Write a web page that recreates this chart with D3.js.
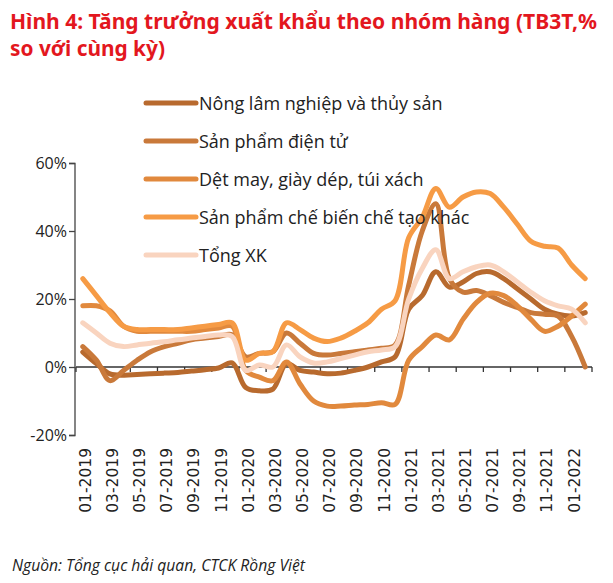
<!DOCTYPE html>
<html><head><meta charset="utf-8">
<script src="https://cdn.jsdelivr.net/npm/d3@7"></script>
<style>body{margin:0;background:#fff}svg{display:block}</style>
</head><body>
<svg id="c" width="613" height="583"></svg>
<script>
const months = ["01-2019","02-2019","03-2019","04-2019","05-2019","06-2019","07-2019","08-2019","09-2019","10-2019","11-2019","12-2019",
"01-2020","02-2020","03-2020","04-2020","05-2020","06-2020","07-2020","08-2020","09-2020","10-2020","11-2020","12-2020",
"01-2021","02-2021","03-2021","04-2021","05-2021","06-2021","07-2021","08-2021","09-2021","10-2021","11-2021","12-2021",
"01-2022","02-2022"];
const tickLabels = months.filter((m,i)=>i%2===0);
const yTicks = [60,40,20,0,-20];

const nongLam = [4.4,1,-2,-2.4,-2.2,-2,-1.8,-1.6,-1.2,-0.8,-0.3,1.2,-6,-7,-6.5,1,-1,-1.5,-2,-1.8,-1,0,1.5,3,17,21,28,23.5,25,27.5,28,26,23,20,17,15.5,15,16];
const dienTu = [6,2,-4,-1,2,4.5,6,7,8,8.5,9,9.5,3,4,4.5,10,7,4,3.5,4,4.5,5,5.5,6.5,24,40,48,26,22,22.5,21,19,17.5,16,15.5,15,9,0];
const detMay = [18,18,16.5,12,10.5,10.5,10.5,10.5,10.5,11,11.5,12,-1,-3,-4,1.5,-5,-10,-11.5,-11.5,-11.2,-11,-10.5,-11,2,6,9.4,8,14,19,21.7,21,18,14,10.5,12,15,18.5];
const cheBien = [26,21,16,12,11,11,11,11,11.5,12,12.5,13,2,4,4.5,13,11,8.5,7.5,8.5,10.5,13,17,19.5,38,44,52.5,47,50,51.5,51,47,42,37,35.5,35,30,26];
const tongXK = [13,10,7,6,6.5,7,7.4,8,8.5,9,9.4,9,-1,0.6,0,6.5,3,1.2,1.5,2.5,3.5,4.5,5,6,20,29,34.5,26,28,29.5,30,28,25,22,19.5,18,17,13];

const seriesNames = ["Nông lâm nghiệp và thủy sản","Sản phẩm điện tử","Dệt may, giày dép, túi xách","Sản phẩm chế biến chế tạo khác","Tổng XK"];
const seriesValues = [nongLam, dienTu, detMay, cheBien, tongXK];
const colors = ["#B86A2E","#C9793A","#E1893D","#F69B45","#F9D4BF"];

const svg = d3.select("#c");
const x = d3.scaleBand().domain(months).range([76,592]);
const y = d3.scaleLinear().domain([-20,60]).range([435,163]);

// title
const title = svg.append("g").attr("fill","#E3171E").attr("font-family","'Noto Sans', sans-serif").attr("font-weight","bold").attr("font-size",21);
title.append("text").attr("x",10).attr("y",29).attr("textLength",587).attr("lengthAdjust","spacingAndGlyphs").text("Hình 4: Tăng trưởng xuất khẩu theo nhóm hàng (TB3T,%");
title.append("text").attr("x",10).attr("y",56).attr("textLength",155).attr("lengthAdjust","spacingAndGlyphs").text("so với cùng kỳ)");

// y axis
const yAxis = svg.append("g").attr("transform","translate(75,0)")
  .call(d3.axisLeft(y).tickValues(yTicks).tickSize(6).tickFormat(d=>d+"%"));
yAxis.select(".domain").attr("stroke","#444").attr("stroke-width",1.3).attr("d","M-6,163.5H0V435.5H-6");
yAxis.selectAll(".tick line").attr("stroke","#444").attr("stroke-width",1.3);
yAxis.selectAll(".tick text").attr("font-family","'Open Sans', sans-serif").attr("font-size",16).attr("fill","#222").attr("x",-8);

// x axis at zero
const xAxis = svg.append("g").attr("transform",`translate(0,${y(0)})`)
  .call(d3.axisBottom(x).tickValues(tickLabels).tickSize(0).tickFormat(""));
xAxis.select(".domain").attr("stroke","#333").attr("stroke-width",1.3).attr("d","M76,0H592");
const bounds = d3.range(0, months.length+1, 2).map(i=> 76 + i*x.step());
xAxis.selectAll(".btick").data(bounds).enter().append("line").attr("class","btick")
  .attr("x1",d=>d).attr("x2",d=>d).attr("y1",0).attr("y2",5).attr("stroke","#333").attr("stroke-width",1.3);

// x labels
svg.append("g").selectAll("text").data(tickLabels).enter().append("text")
  .attr("transform",d=>`translate(${x(d)+x.bandwidth()/2+8},448) rotate(-90)`)
  .attr("text-anchor","end").attr("font-family","'DejaVu Sans', sans-serif").attr("font-size",15.5).attr("fill","#222")
  .text(d=>d);

// lines
const line = d3.line().x((d,i)=>x(months[i])+x.bandwidth()/2).y(d=>y(d)).curve(d3.curveCatmullRom.alpha(0.5));
svg.append("g").selectAll("path").data(seriesValues).enter().append("path")
  .attr("d",d=>line(d)).attr("fill","none").attr("stroke",(d,i)=>colors[i]).attr("stroke-width",5).attr("stroke-linejoin","round").attr("stroke-linecap","round");

// legend
const lg = svg.append("g");
seriesNames.forEach((n,i)=>{
  const yy = 103 + i*38;
  lg.append("line").attr("x1",146).attr("x2",196).attr("y1",yy).attr("y2",yy).attr("stroke",colors[i]).attr("stroke-width",5).attr("stroke-linecap","round");
  lg.append("text").attr("x",199).attr("y",yy+6.5).attr("font-family","'Open Sans', sans-serif").attr("font-size",18).attr("fill","#222").text(n);
});

// source
svg.append("text").attr("x",12).attr("y",571).attr("font-family","'Open Sans', sans-serif").attr("font-style","italic").attr("font-size",16)
  .attr("textLength",293).attr("lengthAdjust","spacingAndGlyphs").attr("fill","#222").text("Nguồn:  Tổng cục hải quan, CTCK Rồng Việt");
</script>
</body></html>
